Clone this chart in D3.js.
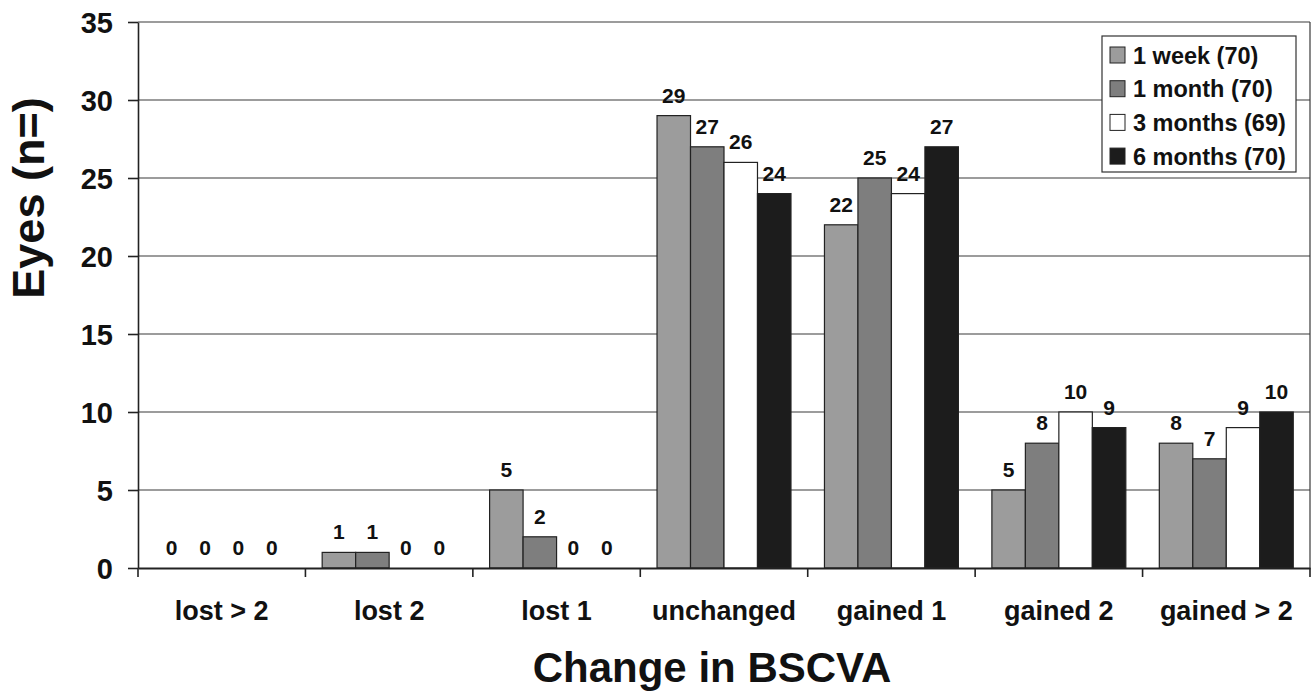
<!DOCTYPE html>
<html>
<head>
<meta charset="utf-8">
<script src="https://cdn.jsdelivr.net/npm/d3@7"></script>
<style>
  html, body { margin: 0; padding: 0; background: #fff; }
  svg { display: block; font-family: Arial, "Liberation Sans", Helvetica, sans-serif; font-weight: bold; }
</style>
</head>
<body>
<svg id="chart" width="1316" height="692"></svg>
<script>
const categories = ["lost > 2", "lost 2", "lost 1", "unchanged", "gained 1", "gained 2", "gained > 2"];
const seriesNames = ["1 week (70)", "1 month (70)", "3 months (69)", "6 months (70)"];
const seriesColors = ["#9c9c9c", "#7e7e7e", "#ffffff", "#1c1c1c"];
const week1   = [0, 1, 5, 29, 22, 5, 8];
const month1  = [0, 1, 2, 27, 25, 8, 7];
const months3 = [0, 0, 0, 26, 24, 10, 9];
const months6 = [0, 0, 0, 24, 27, 9, 10];
const yTicks = [0, 5, 10, 15, 20, 25, 30, 35];
const yLabel = "Eyes (n=)";
const xLabel = "Change in BSCVA";

const seriesValues = [week1, month1, months3, months6];

const W = 1316, H = 692;
const margin = { left: 138, right: 6, top: 22, bottom: 124 };
const svg = d3.select("#chart");

const x0 = d3.scaleBand().domain(categories).range([margin.left, W - margin.right]).padding(0);
const x1 = d3.scaleBand().domain(d3.range(seriesNames.length)).range([0, x0.bandwidth()]).paddingInner(0).paddingOuter(0.5);
const y = d3.scaleLinear().domain([0, 35]).range([H - margin.bottom, margin.top]);

// gridlines
svg.append("g").selectAll("line").data(yTicks.filter(d => d > 0)).join("line")
  .attr("x1", margin.left).attr("x2", W - margin.right)
  .attr("y1", d => y(d)).attr("y2", d => y(d))
  .attr("stroke", "#3a3a3a").attr("stroke-width", 1.2);

// right border
svg.append("line")
  .attr("x1", W - margin.right).attr("x2", W - margin.right)
  .attr("y1", y(35)).attr("y2", y(0))
  .attr("stroke", "#3a3a3a").attr("stroke-width", 1.2);

// bars
const data = [];
categories.forEach((c, ci) => seriesValues.forEach((s, si) => data.push({ c, si, v: s[ci] })));

svg.append("g").selectAll("rect").data(data.filter(d => d.v > 0)).join("rect")
  .attr("x", d => x0(d.c) + x1(d.si))
  .attr("y", d => y(d.v))
  .attr("width", x1.bandwidth())
  .attr("height", d => y(0) - y(d.v))
  .attr("fill", d => seriesColors[d.si])
  .attr("stroke", "#222").attr("stroke-width", 1.2);

// value labels
svg.append("g").selectAll("text").data(data).join("text")
  .attr("x", d => x0(d.c) + x1(d.si) + x1.bandwidth() / 2)
  .attr("y", d => y(d.v) - 13)
  .attr("text-anchor", "middle")
  .attr("font-size", 21)
  .attr("fill", "#111")
  .text(d => d.v);

// y axis
const yAxis = svg.append("g").attr("transform", `translate(${margin.left},0)`)
  .call(d3.axisLeft(y).tickValues(yTicks).tickSize(10).tickPadding(15).tickSizeOuter(0));
yAxis.select(".domain").attr("stroke", "#222").attr("stroke-width", 1.6);
yAxis.selectAll(".tick line").attr("stroke", "#222").attr("stroke-width", 1.6);
yAxis.selectAll(".tick text").attr("font-size", 29).attr("font-family", null).attr("fill", "#111").attr("dy", "0.36em");

// x axis
const xAxis = svg.append("g").attr("transform", `translate(0,${y(0)})`)
  .call(d3.axisBottom(x0).tickSize(0).tickPadding(0).tickSizeOuter(0));
xAxis.select(".domain").attr("stroke", "#222").attr("stroke-width", 1.8);
xAxis.selectAll(".tick text").attr("font-size", 27).attr("font-family", null).attr("fill", "#111").attr("y", 52).attr("dy", 0);

// x category boundary ticks
const bounds = categories.map(c => x0(c)).concat([x0.range()[1]]);
svg.append("g").selectAll("line").data(bounds).join("line")
  .attr("x1", d => d).attr("x2", d => d)
  .attr("y1", y(0)).attr("y2", y(0) + 9)
  .attr("stroke", "#222").attr("stroke-width", 1.6);

// axis titles
svg.append("text")
  .attr("transform", `translate(44,${198}) rotate(-90)`)
  .attr("text-anchor", "middle")
  .attr("font-size", 45).attr("fill", "#111")
  .text(yLabel);

svg.append("text")
  .attr("x", 712).attr("y", 682)
  .attr("text-anchor", "middle")
  .attr("font-size", 42).attr("fill", "#111")
  .text(xLabel);

// legend
const lg = svg.append("g").attr("transform", "translate(1102,36)");
lg.append("rect").attr("x", 0).attr("y", 0).attr("width", 194).attr("height", 136)
  .attr("fill", "#fff").attr("stroke", "#333").attr("stroke-width", 1.2);
const items = lg.selectAll("g.item").data(seriesNames).join("g").attr("class", "item")
  .attr("transform", (d, i) => `translate(8,${11 + i * 33.7})`);
items.append("rect").attr("x", 0).attr("y", 0).attr("width", 15).attr("height", 16)
  .attr("fill", (d, i) => seriesColors[i]).attr("stroke", "#222").attr("stroke-width", 1);
items.append("text").attr("x", 23).attr("y", 16.5)
  .attr("font-size", 23.5).attr("fill", "#111")
  .text(d => d);
</script>
</body>
</html>
